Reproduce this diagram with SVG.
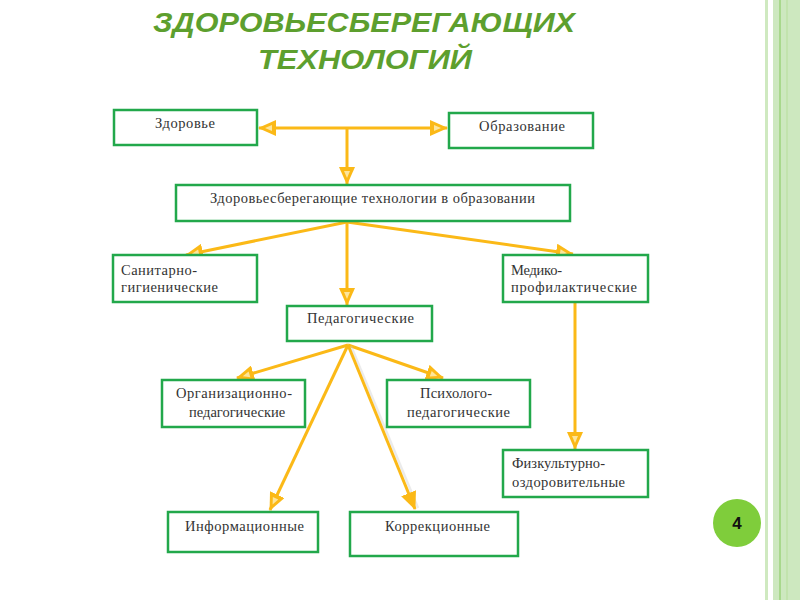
<svg xmlns="http://www.w3.org/2000/svg" width="800" height="600" viewBox="0 0 800 600">
<style>
.box{fill:#ffffff;stroke:#22a84b;stroke-width:2.5}
.lbl{font-family:"Liberation Serif","Times New Roman",serif;font-size:14.5px;fill:#333333}
.c{stroke:#fbb917;stroke-width:3;fill:none;marker-end:url(#ah)}
.title{font-family:"Liberation Sans",Arial,sans-serif;font-weight:bold;font-style:italic;font-size:28px;fill:#5d9f2e;text-anchor:middle}
</style>
<defs>
<marker id="ah" markerUnits="userSpaceOnUse" viewBox="0 0 18 16" markerWidth="18" markerHeight="16" refX="17" refY="8" orient="auto">
<path d="M0,0 L18,8 L0,16 z" fill="#fbb917"/>
<path d="M4,5 L11,8 L4,11 z" fill="#fde59a"/>
</marker>
<marker id="ahs" markerUnits="userSpaceOnUse" viewBox="0 0 18 16" markerWidth="18" markerHeight="16" refX="17" refY="8" orient="auto">
<path d="M0,0 L18,8 L0,16 z" fill="#fbb917"/>
</marker>
</defs>
<rect x="0" y="0" width="800" height="600" fill="#ffffff"/>
<rect x="765" y="0" width="3" height="600" fill="#cfe9c0"/>
<rect x="773" y="0" width="27" height="600" fill="#cde8bf"/>
<rect x="779" y="0" width="2" height="600" fill="#a8d88c"/>
<rect x="786" y="0" width="2" height="600" fill="#c2e3ad"/>
<text class="title" x="364" y="32" textLength="422" lengthAdjust="spacingAndGlyphs">ЗДОРОВЬЕСБЕРЕГАЮЩИХ</text>
<text class="title" x="365" y="69" textLength="214" lengthAdjust="spacingAndGlyphs">ТЕХНОЛОГИЙ</text>
<g id="connectors">
<line class="c" x1="347" y1="128" x2="259" y2="128"/>
<line class="c" x1="347" y1="128" x2="447" y2="128"/>
<line class="c" x1="347" y1="128" x2="347" y2="184"/>
<line class="c" x1="347" y1="222" x2="186" y2="255"/>
<line class="c" x1="347" y1="222" x2="347" y2="305"/>
<line class="c" x1="347" y1="222" x2="573" y2="254"/>
<line class="c" x1="348" y1="345" x2="237" y2="378"/>
<line class="c" x1="348" y1="345" x2="443" y2="378"/>
<line class="c" x1="348" y1="345" x2="270" y2="510"/>
<line x1="351" y1="346" x2="418" y2="508" stroke="#c8c8c8" stroke-width="2.5" opacity="0.35"/>
<line x1="348" y1="345" x2="415" y2="509" stroke="#fbb917" stroke-width="3" marker-end="url(#ahs)"/>
<line class="c" x1="575" y1="302" x2="575" y2="449"/>
</g>
<g id="n-zdorove"><rect class="box" x="114" y="110" width="143" height="35"/><text class="lbl" x="155" y="128" textLength="60" lengthAdjust="spacing">Здоровье</text></g>
<g id="n-obrazovanie"><rect class="box" x="449" y="113" width="144" height="35"/><text class="lbl" x="479" y="131" textLength="86" lengthAdjust="spacing">Образование</text></g>
<g id="n-main"><rect class="box" x="176" y="185" width="394" height="36"/><text class="lbl" x="210" y="203" textLength="325" lengthAdjust="spacing">Здоровьесберегающие технологии в образовании</text></g>
<g id="n-sanit"><rect class="box" x="113" y="255" width="144" height="47"/><text class="lbl" x="121" y="275" textLength="76" lengthAdjust="spacing">Санитарно-</text><text class="lbl" x="121" y="292" textLength="97" lengthAdjust="spacing">гигиенические</text></g>
<g id="n-medico"><rect class="box" x="503" y="255" width="145" height="47"/><text class="lbl" x="511" y="275" textLength="51" lengthAdjust="spacing">Медико-</text><text class="lbl" x="511" y="292" textLength="126" lengthAdjust="spacing">профилактические</text></g>
<g id="n-pedag"><rect class="box" x="287" y="306" width="145" height="35"/><text class="lbl" x="307" y="323" textLength="107" lengthAdjust="spacing">Педагогические</text></g>
<g id="n-org"><rect class="box" x="162" y="380" width="143" height="47"/><text class="lbl" x="176" y="398" textLength="116" lengthAdjust="spacing">Организационно-</text><text class="lbl" x="189" y="417">педагогические</text></g>
<g id="n-psych"><rect class="box" x="387" y="380" width="143" height="47"/><text class="lbl" x="420" y="398" textLength="72" lengthAdjust="spacing">Психолого-</text><text class="lbl" x="407" y="417" textLength="103" lengthAdjust="spacing">педагогические</text></g>
<g id="n-fizk"><rect class="box" x="503" y="450" width="145" height="47"/><text class="lbl" x="512" y="468" textLength="93" lengthAdjust="spacing">Физкультурно-</text><text class="lbl" x="512" y="487" textLength="113" lengthAdjust="spacing">оздоровительные</text></g>
<g id="n-inform"><rect class="box" x="168" y="512" width="150" height="40"/><text class="lbl" x="185" y="531" textLength="119" lengthAdjust="spacing">Информационные</text></g>
<g id="n-korr"><rect class="box" x="350" y="512" width="168" height="44"/><text class="lbl" x="385" y="531" textLength="105" lengthAdjust="spacing">Коррекционные</text></g>
<g id="page-num"><circle cx="737" cy="523" r="24" fill="#7fcd3b"/><text x="737" y="529" text-anchor="middle" font-family="Liberation Sans, Arial, sans-serif" font-weight="bold" font-size="17" fill="#111111">4</text></g>
</svg>
